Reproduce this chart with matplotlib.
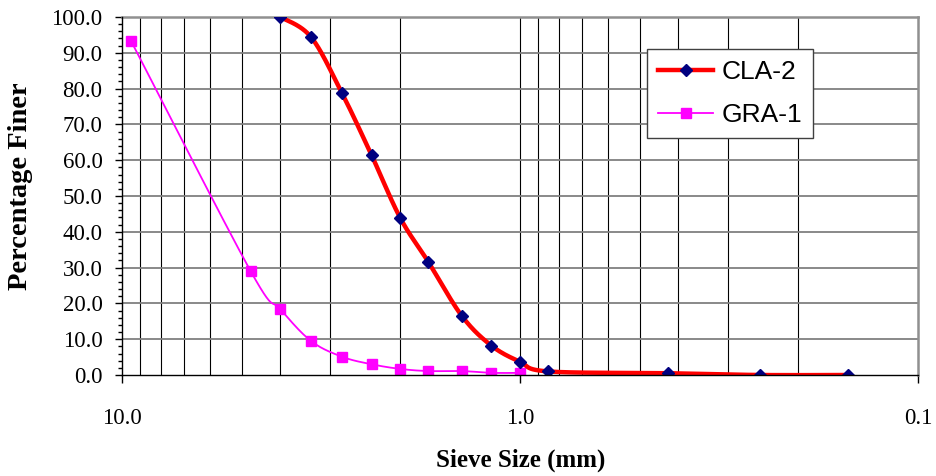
import numpy as np
import matplotlib
matplotlib.use("Agg")
import matplotlib.pyplot as plt
from matplotlib.ticker import FixedLocator, MultipleLocator, NullFormatter

# sieve sizes (mm) and percentage finer
cla_size = [4.0, 3.35, 2.80, 2.36, 2.00, 1.70, 1.40, 1.18, 1.00, 0.85, 0.425, 0.25, 0.15]
cla_finer = [100.0, 94.4, 78.7, 61.4, 43.9, 31.6, 16.5, 8.2, 3.7, 1.0, 0.5, 0.0, 0.0]

gra_size = [9.5, 4.75, 4.0, 3.35, 2.80, 2.36, 2.00, 1.70, 1.40, 1.18, 1.00]
gra_finer = [93.4, 29.0, 18.4, 9.5, 5.1, 3.0, 1.7, 1.1, 1.1, 0.6, 0.6]

x_ticks = [10.0, 1.0, 0.1]
x_ticklabels = ["10.0", "1.0", "0.1"]

serif = "Liberation Serif"
sans = "Liberation Sans"


def smooth(xs, ys, n=40):
    # excel-like smoothed line: bezier through points, done in screen-ish units
    u = np.log10(np.asarray(xs, float)) * 398.0
    v = np.asarray(ys, float) * 3.58
    pts = np.column_stack([u, v])
    out = [pts[:1]]
    t = np.linspace(0, 1, n)[1:, None]
    for i in range(len(pts) - 1):
        p0 = pts[i - 1] if i > 0 else pts[i]
        p1, p2 = pts[i], pts[i + 1]
        p3 = pts[i + 2] if i + 2 < len(pts) else pts[i + 1]
        c1 = p1 + (p2 - p0) / 6.0
        c2 = p2 - (p3 - p1) / 6.0
        seg = ((1 - t) ** 3) * p1 + 3 * ((1 - t) ** 2) * t * c1 + 3 * (1 - t) * t ** 2 * c2 + t ** 3 * p2
        out.append(seg)
    out = np.vstack(out)
    return 10 ** (out[:, 0] / 398.0), out[:, 1] / 3.58


fig = plt.figure(figsize=(9.37, 4.76), dpi=100)
ax = fig.add_axes([122 / 937, 1 - 375 / 476, 796 / 937, 358 / 476])

ax.set_xscale("log")
ax.set_xlim(10, 0.1)
ax.set_ylim(0, 100)

# grid: vertical black at 2..9 of each decade, horizontal gray every 10
vgrid = [m * 10.0 ** e for e in (-1, 0) for m in range(1, 10)]
for g in vgrid:
    if 0.1 < g < 10:
        ax.axvline(g, color="black", lw=0.8, zorder=1)
for yy in range(10, 100, 10):
    ax.axhline(yy, color="#808080", lw=1.3, zorder=1)

gx, gy = smooth(gra_size, gra_finer)
ax.plot(gx, gy, color="#FF00FF", lw=1.3, zorder=3)
ax.plot(gra_size, gra_finer, ls="none", marker="s", ms=7.5, color="#FF00FF", zorder=4)

cx, cy = smooth(cla_size, cla_finer)
ax.plot(cx, cy, color="#FF0000", lw=3.2, zorder=5, solid_capstyle="butt")
ax.plot(cla_size, cla_finer, ls="none", marker="D", ms=6, color="#000080", zorder=6)

# legend proxies
h1, = ax.plot([], [], color="#FF0000", lw=3.2, marker="D", ms=6,
              markerfacecolor="#000080", markeredgecolor="#000080")
h2, = ax.plot([], [], color="#FF00FF", lw=1.3, marker="s", ms=7.5)
leg = ax.legend([h1, h2], ["CLA-2", "GRA-1"], loc="upper left",
                bbox_to_anchor=(647 / 937, 1 - 49 / 476), bbox_transform=fig.transFigure,
                borderaxespad=0, frameon=True, fancybox=False, framealpha=1,
                prop={"family": sans, "size": 19}, handlelength=2.1,
                handletextpad=0.3, labelspacing=0.72, borderpad=0.42)
leg.get_frame().set_edgecolor("#404040")
leg.get_frame().set_linewidth(1.0)
leg.set_zorder(10)

# ticks
ax.xaxis.set_major_locator(FixedLocator(x_ticks))
ax.xaxis.set_minor_locator(FixedLocator([]))
ax.set_xticklabels(x_ticklabels)
ax.xaxis.set_minor_formatter(NullFormatter())
ax.yaxis.set_major_locator(MultipleLocator(10))
ax.yaxis.set_minor_locator(MultipleLocator(2))
ax.yaxis.set_major_formatter(plt.FuncFormatter(lambda v, p: f"{v:.1f}"))

ax.tick_params(axis="x", which="major", direction="out", length=6, width=1,
               pad=18, labelsize=16.5, colors="black")
ax.tick_params(axis="y", which="major", direction="out", length=5, width=1,
               pad=9, labelsize=16.5)
ax.tick_params(axis="y", which="minor", direction="out", length=3, width=1)
for lab in ax.get_xticklabels() + ax.get_yticklabels():
    lab.set_family(serif)

for s in ("top", "right"):
    ax.spines[s].set_color("#909090")
    ax.spines[s].set_linewidth(1.8)
for s in ("left", "bottom"):
    ax.spines[s].set_color("black")
    ax.spines[s].set_linewidth(1.0)
ax.spines["left"].set_zorder(7)
ax.spines["bottom"].set_zorder(7)

fig.text(21 / 937, 1 - 186 / 476, "Percentage Finer", rotation=90, ha="center",
         va="center", family=serif, weight="bold", fontsize=20.5)
fig.text(521 / 937, 1 - 460 / 476, "Sieve Size (mm)", ha="center", va="center",
         family=serif, weight="bold", fontsize=18)

fig.savefig("out.png", dpi=100)
